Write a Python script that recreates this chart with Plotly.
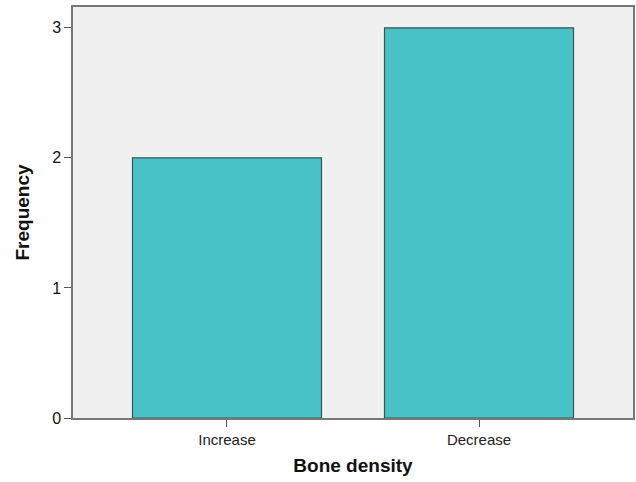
import plotly.graph_objects as go

categories = ["Increase", "Decrease"]
frequency = [2, 3]
y_ticks = [0, 1, 2, 3]

fig = go.Figure(go.Bar(
    x=categories, y=frequency, width=0.75,
    marker=dict(color="#48C2C5", line=dict(color="#34575A", width=1.2)),
))

fig.update_layout(
    width=636, height=482,
    margin=dict(l=73, r=3, t=7, b=64, autoexpand=False),
    paper_bgcolor="white", plot_bgcolor="#F0F0F0",
    showlegend=False,
    font=dict(family="Liberation Sans, Arial, sans-serif", color="#111"),
)
fig.update_xaxes(
    range=[-0.611, 1.611], showgrid=False,
    showline=True, linecolor="#777", linewidth=1.5, mirror=True,
    ticks="outside", ticklen=7, tickcolor="#555", tickwidth=1,
    tickfont=dict(size=15, color="#222"),
    title=dict(text="<b>Bone density</b>", font=dict(size=19, color="#111"), standoff=12),
)
fig.update_yaxes(
    range=[0, 3.16], tickvals=y_ticks, showgrid=False, zeroline=False,
    showline=True, linecolor="#777", linewidth=1.5, mirror=True,
    ticks="outside", ticklen=7, tickcolor="#555", tickwidth=1,
    tickfont=dict(size=16, color="#111"),
    title=dict(text="<b>Frequency</b>", font=dict(size=19, color="#111"), standoff=17),
)

fig.write_html("out.html", config={"displayModeBar": False},
               post_script="document.body.style.margin='0';")
